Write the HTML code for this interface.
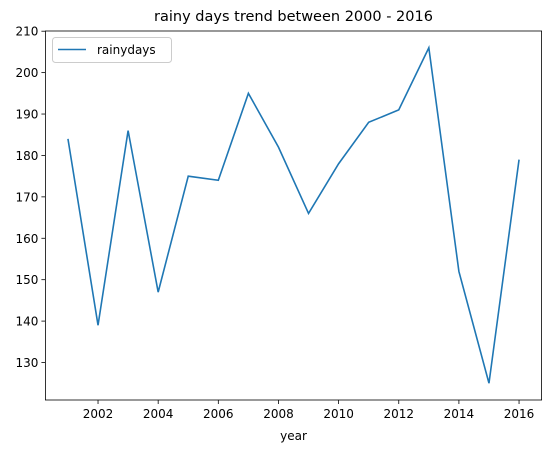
<!DOCTYPE html>
<html><head><meta charset="utf-8"><style>
body{margin:0;background:#fff;font-family:"Liberation Sans","DejaVu Sans",sans-serif;}
svg text{font-family:"DejaVu Sans","Liberation Sans",sans-serif;fill:#000;}
</style></head><body>
<svg id="chart" width="552" height="453"></svg>
<script>
const years=[2001,2002,2003,2004,2005,2006,2007,2008,2009,2010,2011,2012,2013,2014,2015,2016];
const rainydays=[184,139,186,147,175,174,195,182,166,178,188,191,206,152,125,179];
const xTicks=[2002,2004,2006,2008,2010,2012,2014,2016];
const yTicks=[130,140,150,160,170,180,190,200,210];
const L=45.4,R=541.6,T=31,B=400;
const xmin=2000.25,xmax=2016.75,ymin=120.95,ymax=210.05;
const X=v=>L+(v-xmin)/(xmax-xmin)*(R-L);
const Y=v=>B-(v-ymin)/(ymax-ymin)*(B-T);
const svg=document.getElementById('chart');
const NS='http://www.w3.org/2000/svg';
function mk(t,a,txt){const e=document.createElementNS(NS,t);for(const k in a)e.setAttribute(k,a[k]);if(txt!==undefined)e.textContent=txt;svg.appendChild(e);return e;}
let e=mk('text',{x:(L+R)/2,y:21,'text-anchor':'middle','font-size':14.5},'rainy days trend between 2000 - 2016');


xTicks.forEach(v=>{
 let t=mk('line',{x1:X(v),x2:X(v),y1:B,y2:B+4,stroke:'#000','stroke-width':0.8});
 
 
 let l=mk('text',{x:X(v),y:B+18,'text-anchor':'middle','font-size':12},v);
 
 
});
yTicks.forEach(v=>{
 let t=mk('line',{x1:L-4,x2:L,y1:Y(v),y2:Y(v),stroke:'#000','stroke-width':0.8});
 
 
 let l=mk('text',{x:L-7,y:Y(v)+4.5,'text-anchor':'end','font-size':12},v);
 
 
});
e=mk('text',{x:(L+R)/2,y:440,'text-anchor':'middle','font-size':12},'year');


e=mk('polyline',{points:years.map((y,i)=>X(y)+','+Y(rainydays[i])).join(' '),fill:'none',stroke:'#1f77b4','stroke-width':1.6});


e=mk('rect',{x:L,y:T,width:R-L,height:B-T,fill:'none',stroke:'#000','stroke-width':0.8});


e=mk('rect',{x:52.5,y:37.5,width:119,height:25,rx:3,fill:'#fff','fill-opacity':0.8,stroke:'#ccc','stroke-width':1});


e=mk('line',{x1:58,x2:86,y1:49.5,y2:49.5,stroke:'#1f77b4','stroke-width':1.6});


e=mk('text',{x:97,y:54,'font-size':12},'rainydays');


</script>
</body></html>
